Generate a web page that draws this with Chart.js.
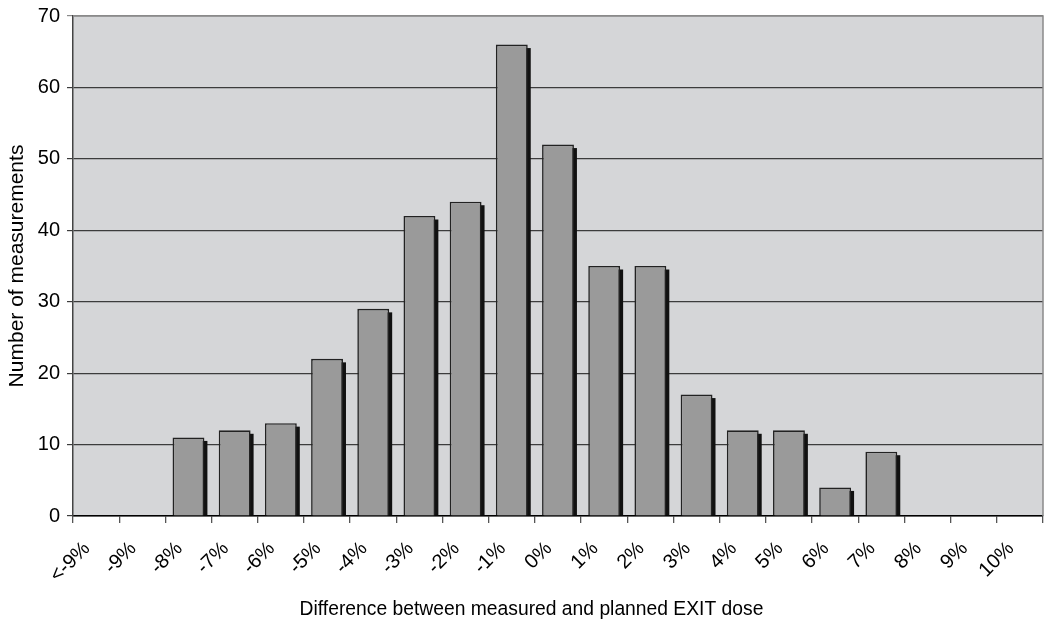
<!DOCTYPE html>
<html>
<head>
<meta charset="utf-8">
<script src="https://cdn.jsdelivr.net/npm/chart.js@4/dist/chart.umd.min.js"></script>
<style>
  html, body { margin: 0; padding: 0; background: #ffffff; }
  #wrap { width: 1046px; height: 620px; position: relative; }
</style>
</head>
<body>
<div id="wrap"><canvas id="c"></canvas></div>
<script>
const tickLabels = ['<-9%','-9%','-8%','-7%','-6%','-5%','-4%','-3%','-2%','-1%','0%','1%','2%','3%','4%','5%','6%','7%','8%','9%','10%'];
const counts = [0,0,11,12,13,22,29,42,44,66,52,35,35,17,12,12,4,9,0,0,0];
const yTicks = [0,10,20,30,40,50,60,70];
const xTitle = 'Difference between measured and planned EXIT dose';
const yTitle = 'Number of measurements';

const points = counts.map((v, i) => ({ x: i + 0.5, y: v }));

const plotBg = {
  id: 'plotBg',
  beforeDraw(chart) {
    const { ctx, chartArea: a } = chart;
    ctx.save();
    ctx.fillStyle = '#d5d6d8';
    ctx.fillRect(a.left, a.top, a.right - a.left, a.bottom - a.top);
    ctx.restore();
  },
  afterDraw(chart) {
    const { ctx, chartArea: a } = chart;
    ctx.save();
    ctx.strokeStyle = '#8a8a8a';
    ctx.lineWidth = 1.5;
    ctx.beginPath();
    ctx.moveTo(a.left, a.top);
    ctx.lineTo(a.right, a.top);
    ctx.lineTo(a.right, a.bottom);
    ctx.stroke();
    ctx.restore();
  }
};

const barShadow = {
  id: 'barShadow',
  beforeDatasetsDraw(chart) {
    const { ctx, chartArea: a } = chart;
    const meta = chart.getDatasetMeta(0);
    ctx.save();
    ctx.beginPath();
    ctx.rect(a.left, a.top, a.right - a.left, a.bottom - a.top);
    ctx.clip();
    ctx.fillStyle = '#111111';
    meta.data.forEach((el, i) => {
      if (!counts[i]) return;
      const p = el.getProps(['x', 'y', 'base', 'width'], true);
      const left = p.x - p.width / 2 + 3;
      const top = p.y + 3.5;
      ctx.fillRect(left, top, p.width, p.base - top);
    });
    ctx.restore();
  }
};

new Chart(document.getElementById('c'), {
  type: 'bar',
  data: {
    datasets: [{
      data: points,
      backgroundColor: '#9a9a9a',
      borderColor: '#222222',
      borderWidth: 1.6,
      borderSkipped: 'bottom',
      barPercentage: 0.69,
      categoryPercentage: 1.0
    }]
  },
  options: {
    responsive: true,
    maintainAspectRatio: false,
    animation: false,
    devicePixelRatio: 1,
    layout: { padding: { top: 16, right: 3, left: 20, bottom: 0 } },
    plugins: {
      legend: { display: false },
      tooltip: { enabled: false },
      title: {
        display: true,
        position: 'bottom',
        text: xTitle,
        color: '#000000',
        font: { family: 'Liberation Sans, Arial, sans-serif', size: 19.3, weight: 'normal', lineHeight: 1.2 },
        padding: { top: -21.6, bottom: -1.56 }
      }
    },
    scales: {
      x: {
        type: 'linear',
        min: 0,
        max: 21,
        offset: false,
        afterFit(scale) {
          scale.height = 104;
          scale.paddingLeft = 0;
          scale.paddingRight = 0;
        },
        afterBuildTicks(scale) {
          scale.ticks = tickLabels.map((_, i) => ({ value: i })).concat([{ value: 21 }]);
        },
        ticks: {
          stepSize: 1,
          autoSkip: false,
          maxRotation: 45,
          minRotation: 45,
          labelOffset: 14,
          padding: 14,
          color: '#000000',
          font: { family: 'Liberation Sans, Arial, sans-serif', size: 20 },
          callback: (v) => (v < tickLabels.length ? tickLabels[v] : '')
        },
        grid: {
          offset: false,
          drawOnChartArea: false,
          drawTicks: true,
          tickLength: 7,
          color: '#555555',
          lineWidth: 1.3
        },
        border: { display: true, color: '#000000', width: 1.5 }
      },
      y: {
        min: 0,
        max: 70,
        afterFit(scale) {
          scale.width = 53;
          scale.paddingTop = 0;
          scale.paddingBottom = 0;
        },
        afterBuildTicks(scale) {
          scale.ticks = yTicks.map(v => ({ value: v }));
        },
        ticks: {
          stepSize: 10,
          padding: 7,
          color: '#000000',
          font: { family: 'Liberation Sans, Arial, sans-serif', size: 20 }
        },
        grid: {
          drawTicks: true,
          tickLength: 6,
          color: (ctx) => (ctx.tick && ctx.tick.value === 70 ? '#8a8a8a' : '#3c3c3c'),
          lineWidth: 1.2
        },
        border: { display: true, color: '#444444', width: 1.5 },
        title: {
          display: true,
          text: yTitle,
          color: '#000000',
          font: { family: 'Liberation Sans, Arial, sans-serif', size: 21 },
          padding: { top: -15.6, bottom: 0 }
        }
      }
    }
  },
  plugins: [plotBg, barShadow]
});
</script>
</body>
</html>
